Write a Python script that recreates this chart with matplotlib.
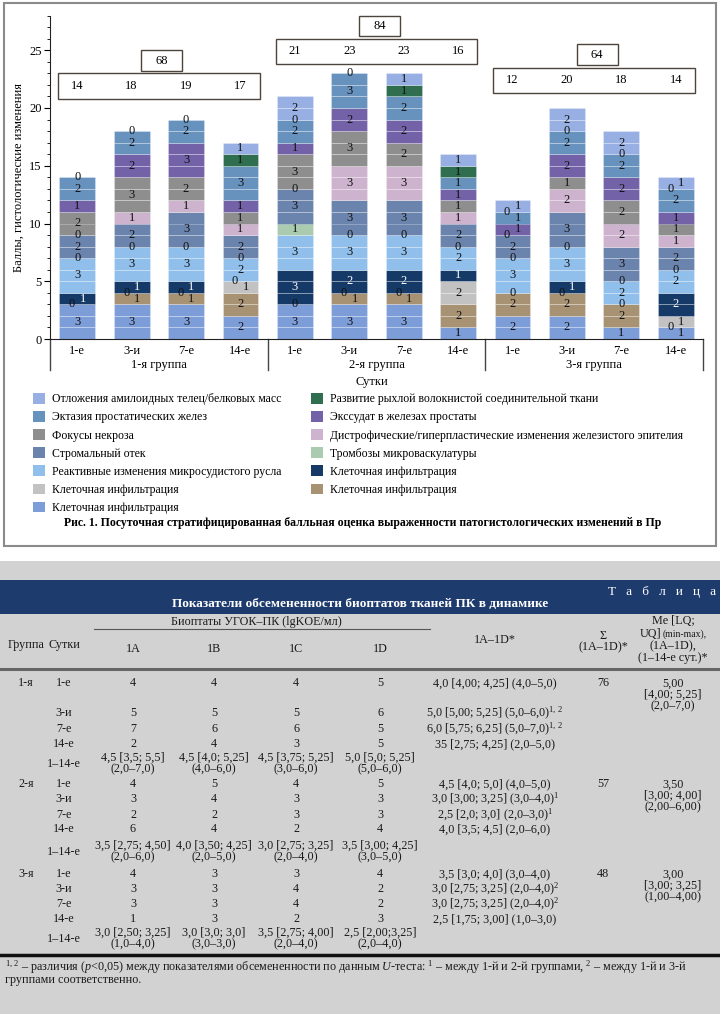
import matplotlib
matplotlib.use('Agg')
import matplotlib.pyplot as plt
import matplotlib.transforms as mtransforms
from matplotlib.patches import Rectangle, Patch
from matplotlib.ticker import MultipleLocator

plt.rcParams['font.family'] = ['Liberation Serif', 'DejaVu Serif']
plt.rcParams['mathtext.fontset'] = 'custom'
plt.rcParams['mathtext.rm'] = 'Liberation Serif'
plt.rcParams['mathtext.it'] = 'Liberation Serif:italic'

days = ['1-е', '3-и', '7-е', '14-е']
groups = ['1-я группа', '2-я группа', '3-я группа']

# баллы по признакам: 1-я группа (1, 3, 7, 14 сут), 2-я группа, 3-я группа
infil_blue   = [3, 3, 3, 2,  3, 3, 3, 1,  2, 2, 1, 1]
infil_brown  = [0, 1, 1, 2,  0, 1, 1, 2,  2, 2, 2, 0]
infil_grey   = [0, 0, 0, 1,  0, 0, 0, 2,  0, 0, 0, 1]
infil_navy   = [1, 1, 1, 0,  3, 2, 2, 1,  0, 1, 0, 2]
reactive     = [3, 3, 3, 2,  3, 3, 3, 2,  3, 3, 2, 2]
thrombosis   = [0, 0, 0, 0,  1, 0, 0, 0,  0, 0, 0, 0]
edema        = [2, 2, 3, 2,  3, 3, 3, 2,  2, 3, 3, 2]
dystrophy    = [0, 1, 1, 1,  0, 3, 3, 1,  0, 2, 2, 1]
necrosis     = [2, 3, 2, 1,  3, 3, 2, 1,  0, 1, 2, 1]
exudate      = [1, 2, 3, 1,  1, 2, 2, 1,  1, 2, 2, 1]
ectasia      = [2, 2, 2, 3,  2, 3, 2, 1,  1, 2, 2, 2]
loose_tissue = [0, 0, 0, 1,  0, 0, 1, 1,  0, 0, 0, 0]
amyloid      = [0, 0, 0, 1,  2, 0, 1, 1,  1, 2, 2, 1]

# суммы по группам, как подписаны на рисунке
group_totals = [68, 84, 64]

series = [infil_blue, infil_brown, infil_grey, infil_navy, reactive, thrombosis,
          edema, dystrophy, necrosis, exudate, ectasia, loose_tissue, amyloid]
names = ['Клеточная инфильтрация', 'Клеточная инфильтрация', 'Клеточная инфильтрация',
         'Клеточная инфильтрация', 'Реактивные изменения микросудистого русла',
         'Тромбозы микроваскулатуры', 'Стромальный отек',
         'Дистрофические/гиперпластические изменения железистого эпителия',
         'Фокусы некроза', 'Экссудат в железах простаты', 'Эктазия простатических желез',
         'Развитие рыхлой волокнистой соединительной ткани',
         'Отложения амилоидных телец/белковых масс']
colors = ['#7d9dd9', '#a89274', '#c2c2c2', '#163a68', '#8fbfea', '#abcbb1', '#6b84ad',
          '#cdb3cd', '#8e8e8e', '#7462a9', '#6792be', '#2f6f4f', '#97afe2']

# таблица
head_cols = ['1A', '1B', '1C', '1D']
grp1_rows = [
    ['1-е', '4', '4', '4', '5', '4,0 [4,00; 4,25] (4,0–5,0)'],
    ['3-и', '5', '5', '5', '6', '5,0 [5,00; 5,25] (5,0–6,0)$^{1,\\,2}$'],
    ['7-е', '7', '6', '6', '5', '6,0 [5,75; 6,25] (5,0–7,0)$^{1,\\,2}$'],
    ['14-е', '2', '4', '3', '5', '35 [2,75; 4,25] (2,0–5,0)'],
    ['1–14-е', '4,5 [3,5; 5,5]\n(2,0–7,0)', '4,5 [4,0; 5,25]\n(4,0–6,0)',
     '4,5 [3,75; 5,25]\n(3,0–6,0)', '5,0 [5,0; 5,25]\n(5,0–6,0)', ''],
]
grp2_rows = [
    ['1-е', '4', '5', '4', '5', '4,5 [4,0; 5,0] (4,0–5,0)'],
    ['3-и', '3', '4', '3', '3', '3,0 [3,00; 3,25] (3,0–4,0)$^{1}$'],
    ['7-е', '2', '2', '3', '3', '2,5 [2,0; 3,0] (2,0–3,0)$^{1}$'],
    ['14-е', '6', '4', '2', '4', '4,0 [3,5; 4,5] (2,0–6,0)'],
    ['1–14-е', '3,5 [2,75; 4,50]\n(2,0–6,0)', '4,0 [3,50; 4,25]\n(2,0–5,0)',
     '3,0 [2,75; 3,25]\n(2,0–4,0)', '3,5 [3,00; 4,25]\n(3,0–5,0)', ''],
]
grp3_rows = [
    ['1-е', '4', '3', '3', '4', '3,5 [3,0; 4,0] (3,0–4,0)'],
    ['3-и', '3', '3', '4', '2', '3,0 [2,75; 3,25] (2,0–4,0)$^{2}$'],
    ['7-е', '3', '3', '4', '2', '3,0 [2,75; 3,25] (2,0–4,0)$^{2}$'],
    ['14-е', '1', '3', '2', '3', '2,5 [1,75; 3,00] (1,0–3,0)'],
    ['1–14-е', '3,0 [2,50; 3,25]\n(1,0–4,0)', '3,0 [3,0; 3,0]\n(3,0–3,0)',
     '3,5 [2,75; 4,00]\n(2,0–4,0)', '2,5 [2,00;3,25]\n(2,0–4,0)', ''],
]
group_names = ['1-я', '2-я', '3-я']
sums = ['76', '57', '48']
medians = ['5,00\n[4,00; 5,25]\n(2,0–7,0)', '3,50\n[3,00; 4,00]\n(2,00–6,00)',
           '3,00\n[3,00; 3,25]\n(1,00–4,00)']

fig = plt.figure(figsize=(7.2, 10.14), dpi=100)

# фон в пикселях
bg = fig.add_axes([0, 0, 1, 1], zorder=0)
bg.set_xlim(0, 720)
bg.set_ylim(1014, 0)
bg.axis('off')
bg.add_patch(Rectangle((4, 3), 712, 543, fill=False, edgecolor='#8a8a8a', lw=1.5))
bg.add_patch(Rectangle((0, 561), 720, 453, color='#d3d2d3', lw=0))
bg.add_patch(Rectangle((0, 580), 720, 34, color='#1d3b6c', lw=0))

# ---- диаграмма ----
ax = fig.add_axes([50 / 720, 1 - 339 / 1014, 653 / 720, 323.4 / 1014], zorder=1)
ax.patch.set_visible(False)
n = len(infil_blue)
totals = [sum(s[i] for s in series) for i in range(n)]

for i in range(n):
    bottom = 0
    labels = []
    for k, s in enumerate(series):
        v = s[i]
        for u in range(v):
            ax.bar(i, 1, bottom=bottom + u, width=0.66, color=colors[k],
                   edgecolor=(1, 1, 1, 0.3), lw=0.6)
        if v:
            labels.append([i, bottom + v / 2, str(v), 'white' if k == 3 else '#111111'])
        elif not any(l[2] == '0' and abs(l[1] - bottom) < 0.01 for l in labels):
            labels.append([i, bottom, '0', '#111111'])
        bottom += v
    # сдвиг нулей, если они наезжают на соседнюю подпись
    for lz in labels:
        if lz[2] != '0':
            continue
        for lo in labels:
            if lo[2] != '0' and abs(lo[1] - lz[1]) < 0.6:
                lz[0] = i - 0.1
                lo[0] = i + 0.1
    for x, y, t, c in labels:
        ax.text(x, y, t, ha='center', va='center', fontsize=9, color=c)

box_base = [20.8, 23.8, 21.3]
for g in range(3):
    y0 = box_base[g]
    ax.add_patch(Rectangle((4 * g - 0.35, y0), 3.7, 2.2, facecolor='white',
                           edgecolor='#4d453c', lw=1, clip_on=False))
    for j in range(4):
        ax.text(4 * g + j, y0 + 1.1, str(totals[4 * g + j]), ha='center', va='center', fontsize=9)
    ax.add_patch(Rectangle((4 * g + 1.18, y0 + 2.4), 0.75, 1.8, facecolor='white',
                           edgecolor='#4d453c', lw=1, clip_on=False))
    ax.text(4 * g + 1.555, y0 + 3.3, str(group_totals[g]),
            ha='center', va='center', fontsize=9)

ax.set_xlim(-0.5, 11.5)
ax.set_ylim(0, 28)
ax.set_xticks(range(n))
ax.set_xticklabels(days * 3, fontsize=9)
ax.tick_params(axis='x', length=0, pad=4)
ax.set_yticks(range(0, 26, 5))
ax.yaxis.set_minor_locator(MultipleLocator(1))
ax.tick_params(axis='y', which='major', direction='out', length=4, width=0.8, labelsize=9, pad=2)
ax.tick_params(axis='y', which='minor', direction='out', length=2, width=0.6)
ax.set_ylabel('Баллы, гистологические изменения', fontsize=9, labelpad=3)
for side in ['top', 'right']:
    ax.spines[side].set_visible(False)
for side in ['left', 'bottom']:
    ax.spines[side].set_color('#222222')
ax.spines['left'].set_bounds(0, 28)

trans = mtransforms.blended_transform_factory(ax.transData, ax.transAxes)
for xs in [-0.5, 3.5, 7.5, 11.5]:
    ax.plot([xs, xs], [0, -0.097], transform=trans, clip_on=False, color='#444444', lw=1)
for g in range(3):
    ax.text(4 * g + 1.5, -0.081, groups[g], transform=trans, ha='center', va='center', fontsize=9)

bg.text(372, 382, 'Сутки', ha='center', va='center', fontsize=9)

order = [12, 10, 8, 6, 4, 2, 0, 11, 9, 7, 5, 3, 1]
handles = [Patch(facecolor=colors[k], edgecolor='none') for k in order]
fig.legend(handles, [names[k] for k in order], ncol=2, loc='upper left',
           bbox_to_anchor=(33 / 720, 1 - 393 / 1014), frameon=False, fontsize=8.5,
           handlelength=1.0, handleheight=1.0, handletextpad=0.6, columnspacing=2.5,
           labelspacing=0.49, borderpad=0, borderaxespad=0)

bg.text(363, 523, 'Рис. 1. Посуточная стратифицированная балльная оценка выраженности '
        'патогистологических изменений в Пр', ha='center', va='center',
        fontsize=8.5, fontweight='bold')

# ---- таблица ----
fs = 8.7
bg.text(716, 592, 'Т   а   б   л   и   ц   а', ha='right', va='center',
        fontsize=9.5, color='white')
bg.text(360, 604, 'Показатели обсемененности биоптатов тканей ПК в динамике',
        ha='center', va='center', fontsize=9.5, color='white', fontweight='bold')

tc = '#1a1a1a'
col_x = [26, 64, 133, 214, 296, 380, 495, 603, 673]
bg.text(256, 622, 'Биоптаты УГОК–ПК (lgKOE/мл)', ha='center', va='center', fontsize=fs, color=tc)
bg.plot([94, 430], [629, 629], color='#555555', lw=0.8)
bg.text(col_x[0], 645, 'Группа', ha='center', va='center', fontsize=fs, color=tc)
bg.text(col_x[1], 645, 'Сутки', ha='center', va='center', fontsize=fs, color=tc)
for c, h in enumerate(head_cols):
    bg.text(col_x[2 + c], 649, h, ha='center', va='center', fontsize=fs, color=tc)
bg.text(col_x[6], 640, '1A–1D*', ha='center', va='center', fontsize=fs, color=tc)
bg.text(col_x[7], 636, 'Σ', ha='center', va='center', fontsize=fs, color=tc)
bg.text(col_x[7], 647, '(1A–1D)*', ha='center', va='center', fontsize=fs, color=tc)
bg.text(col_x[8], 621, 'Me [LQ;', ha='center', va='center', fontsize=fs, color=tc)
bg.text(col_x[8] - 12, 634, 'UQ]', ha='right', va='center', fontsize=fs, color=tc)
bg.text(col_x[8] - 10, 634, '(min-max),', ha='left', va='center', fontsize=7, color=tc)
bg.text(col_x[8], 646, '(1A–1D),', ha='center', va='center', fontsize=fs, color=tc)
bg.text(col_x[8], 658, '(1–14-е сут.)*', ha='center', va='center', fontsize=fs, color=tc)
bg.plot([0, 720], [669, 669], color='#666666', lw=2.2)

row_y = [[683, 713, 729, 744, 764], [784, 799, 815, 829, 852], [874, 889, 904, 919, 939]]
for g, rows in enumerate([grp1_rows, grp2_rows, grp3_rows]):
    base = row_y[g][0]
    bg.text(col_x[0], base, group_names[g], ha='center', va='center', fontsize=fs, color=tc)
    bg.text(col_x[7], base, sums[g], ha='center', va='center', fontsize=fs, color=tc)
    bg.text(col_x[8], base + 12, medians[g], ha='center', va='center', fontsize=fs,
            color=tc, linespacing=0.95)
    for r, row in enumerate(rows):
        for c, cell in enumerate(row):
            bg.text(col_x[1 + c], row_y[g][r], cell, ha='center', va='center', fontsize=fs,
                    color=tc, linespacing=0.95)

bg.plot([0, 720], [955, 955], color='#111111', lw=2.5)
bg.text(5, 967, r'${}^{1,\,2}$ – различия ($p$<0,05) между показателями обсемененности по данным '
        r'$U$-теста: ${}^{1}$ – между 1-й и 2-й группами, ${}^{2}$ – между 1-й и 3-й',
        ha='left', va='center', fontsize=fs, color=tc)
bg.text(5, 980, 'группами соответственно.', ha='left', va='center', fontsize=fs, color=tc)

fig.savefig('out.png', dpi=100)
